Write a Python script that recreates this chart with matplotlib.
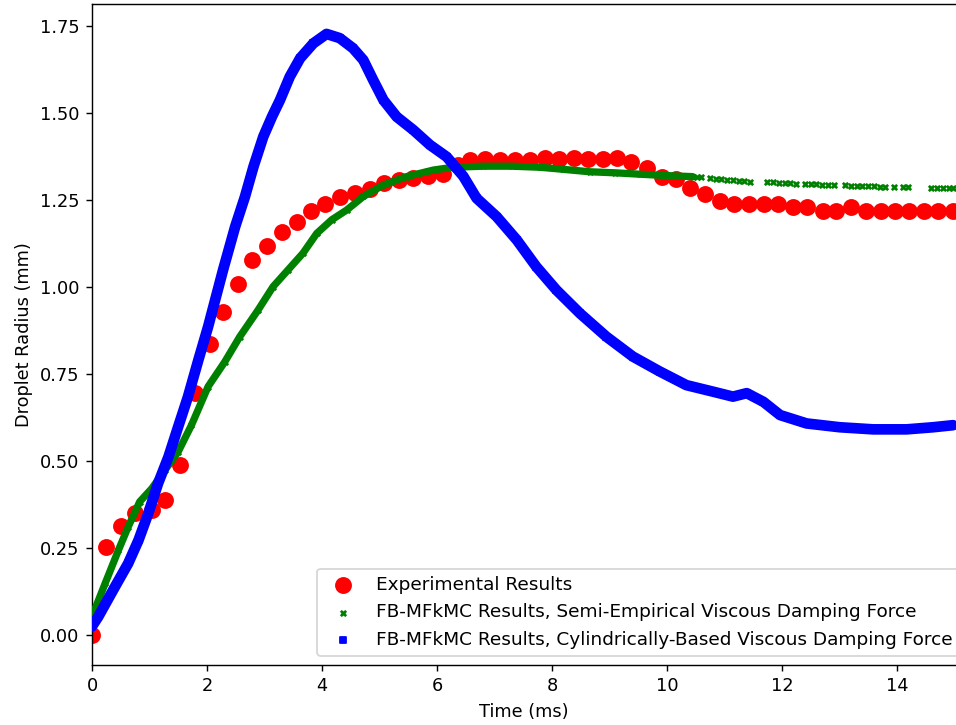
import matplotlib
matplotlib.use("Agg")
import matplotlib.pyplot as plt

# experimental droplet radius (mm) vs time (ms)
exp_t = [0.0, 0.25, 0.5, 0.75, 1.04, 1.27, 1.53, 1.79, 2.05, 2.28, 2.54, 2.79, 3.05,
         3.30, 3.56, 3.81, 4.06, 4.32, 4.57, 4.83, 5.08, 5.34, 5.59, 5.85, 6.11, 6.36,
         6.57, 6.83, 7.10, 7.36, 7.62, 7.88, 8.13, 8.38, 8.63, 8.89, 9.14, 9.38, 9.65,
         9.91, 10.16, 10.40, 10.66, 10.92, 11.17, 11.43, 11.69, 11.94, 12.20, 12.44,
         12.71, 12.95, 13.20, 13.46, 13.72, 13.97, 14.21, 14.47, 14.72, 14.98]
exp_r = [0.0, 0.252, 0.314, 0.351, 0.359, 0.388, 0.489, 0.695, 0.836, 0.927, 1.009,
         1.078, 1.119, 1.157, 1.188, 1.218, 1.238, 1.258, 1.271, 1.281, 1.298, 1.307,
         1.314, 1.319, 1.324, 1.350, 1.365, 1.367, 1.365, 1.365, 1.365, 1.370, 1.368,
         1.370, 1.368, 1.368, 1.370, 1.360, 1.341, 1.317, 1.309, 1.284, 1.267, 1.248,
         1.238, 1.237, 1.237, 1.238, 1.229, 1.229, 1.219, 1.219, 1.229, 1.219, 1.219,
         1.219, 1.219, 1.219, 1.219, 1.219]

# semi-empirical damping model (dense part)
semi_t = [0.0, 0.23, 0.46, 0.63, 0.83, 1.04, 1.27, 1.50, 1.73, 2.02, 2.31, 2.57, 2.89,
          3.15, 3.41, 3.67, 3.91, 4.17, 4.43, 4.72, 5.07, 5.47, 5.94, 6.28, 6.80, 7.30,
          7.79, 8.20, 8.66, 9.10, 9.53, 10.00, 10.45]
semi_r = [0.053, 0.149, 0.244, 0.311, 0.383, 0.421, 0.474, 0.527, 0.603, 0.714, 0.785,
          0.857, 0.934, 1.001, 1.049, 1.097, 1.154, 1.193, 1.221, 1.260, 1.293, 1.317,
          1.336, 1.344, 1.347, 1.347, 1.344, 1.338, 1.331, 1.328, 1.324, 1.320, 1.317]
# semi-empirical damping model (sparse tail)
semi_tail_t = [10.52, 10.60, 10.75, 10.85, 10.95, 11.05, 11.15, 11.25, 11.35, 11.45,
               11.75, 11.85, 11.95, 12.05, 12.15, 12.25, 12.40, 12.50, 12.60, 12.70,
               12.80, 12.90, 13.10, 13.20, 13.30, 13.40, 13.50, 13.60, 13.70, 13.80,
               13.95, 14.10, 14.20, 14.60, 14.70, 14.80, 14.90, 14.98]
semi_tail_r = [1.317, 1.315, 1.312, 1.310, 1.309, 1.308, 1.306, 1.305, 1.304, 1.303,
               1.302, 1.301, 1.300, 1.299, 1.298, 1.297, 1.296, 1.296, 1.295, 1.294,
               1.294, 1.293, 1.292, 1.291, 1.290, 1.290, 1.289, 1.289, 1.288, 1.288,
               1.287, 1.287, 1.286, 1.285, 1.285, 1.284, 1.284, 1.284]

# cylindrically-based damping model
cyl_t = [0.0, 0.11, 0.40, 0.63, 0.81, 0.98, 1.15, 1.33, 1.50, 1.67, 1.85, 2.02, 2.28,
         2.49, 2.66, 2.81, 2.98, 3.13, 3.27, 3.44, 3.62, 3.85, 4.08, 4.31, 4.54, 4.72,
         4.89, 5.07, 5.30, 5.59, 5.88, 6.17, 6.46, 6.69, 7.04, 7.39, 7.73, 8.08, 8.49,
         8.95, 9.41, 9.88, 10.34, 10.81, 11.15, 11.39, 11.68, 11.97, 12.43, 13.01,
         13.59, 14.17, 14.63, 14.98]
cyl_r = [0.025, 0.053, 0.139, 0.206, 0.273, 0.350, 0.436, 0.512, 0.599, 0.685, 0.790,
         0.886, 1.049, 1.173, 1.259, 1.346, 1.432, 1.489, 1.537, 1.604, 1.657, 1.700,
         1.727, 1.715, 1.686, 1.652, 1.595, 1.537, 1.489, 1.451, 1.408, 1.374, 1.318,
         1.255, 1.202, 1.135, 1.058, 0.991, 0.924, 0.857, 0.800, 0.757, 0.718, 0.699,
         0.685, 0.695, 0.670, 0.632, 0.608, 0.597, 0.591, 0.591, 0.597, 0.603]

DPI = 128
fig = plt.figure(figsize=(956 / DPI, 725 / DPI), dpi=DPI)
ax = fig.add_axes([92 / 956, 1 - 665 / 725, 1 - 92 / 956, 661 / 725])

ax.scatter(exp_t, exp_r, s=72, color="red", label="Experimental Results", zorder=2)

ax.plot(semi_t, semi_r, color="green", lw=4.1, solid_capstyle="round", zorder=3)
ax.scatter(semi_t + semi_tail_t, semi_r + semi_tail_r, s=9, marker="x", color="green",
           linewidths=1.5, zorder=3,
           label="FB-MFkMC Results, Semi-Empirical Viscous Damping Force")

ax.plot(cyl_t, cyl_r, color="blue", lw=6.0, solid_capstyle="round", zorder=4)
ax.scatter(cyl_t, cyl_r, s=11, marker="s", color="blue", zorder=4,
           label="FB-MFkMC Results, Cylindrically-Based Viscous Damping Force")

ax.set_xlim(0, 15.03)
ax.set_ylim(-0.086, 1.813)
ax.set_xticks(range(0, 15, 2))
ax.set_yticks([0, 0.25, 0.5, 0.75, 1.0, 1.25, 1.5, 1.75])
ax.spines["right"].set_visible(False)
ax.set_xlabel("Time (ms)")
ax.set_ylabel("Droplet Radius (mm)")

ax.legend(loc="lower left", bbox_to_anchor=(317 / 956, 1 - 656 / 725),
          bbox_transform=fig.transFigure, borderaxespad=0, fontsize=10.4)

fig.savefig("out.png", dpi=DPI)
